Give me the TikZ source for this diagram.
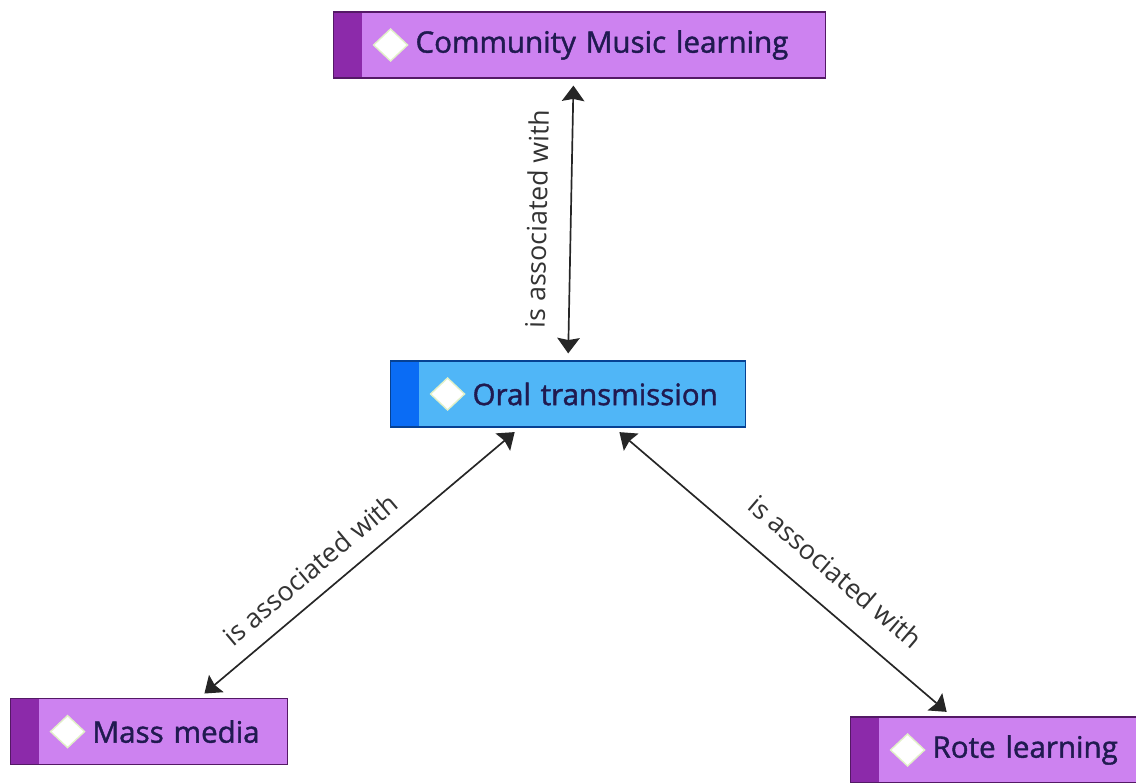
\documentclass[tikz,border=0pt]{standalone}
\usepackage{fontspec}
\usepackage{tikz}
\usetikzlibrary{arrows.meta,positioning}
\newfontfamily\boxfont[BoldFont={Open Sans}, BoldFeatures={FakeBold=1.4}]{Open Sans}
\newfontfamily\relfont{Open Sans}
\definecolor{lilac}{RGB}{205,130,240}
\definecolor{lilacbar}{RGB}{140,42,170}
\definecolor{sky}{RGB}{80,182,247}
\definecolor{skybar}{RGB}{10,108,245}
\definecolor{ink}{RGB}{32,26,80}
\definecolor{gemrim}{RGB}{225,240,200}

\begin{document}
\begin{tikzpicture}[
  concept/.style 2 args={draw=#2!60!black, fill=#1, text=ink, anchor=west,
                align=left, inner xsep=0.7cm, inner ysep=0pt,
                minimum height=1.65cm, line width=0.8pt,
                font=\boxfont\bfseries\fontsize{21}{25}\selectfont,
                path picture={
                  \fill[#2] (path picture bounding box.south west)
                    rectangle ([xshift=0.7cm]path picture bounding box.north west);
                  \filldraw[fill=white, draw=gemrim, line width=1pt]
                    ([xshift=1.0cm]path picture bounding box.west)
                    -- ++(0.425,0.4) -- ++(0.425,-0.4) -- ++(-0.425,-0.4) -- cycle;
                }},
  assoc/.style={{Stealth[length=11pt,width=16pt,inset=1.5pt]}-{Stealth[length=11pt,width=16pt,inset=1.5pt]},
                line width=1.2pt, black!85, shorten <=5pt, shorten >=5pt},
  rel/.style={sloped, text=black!80,
              font=\relfont\fontsize{19}{21}\selectfont},
]
  \useasboundingbox (0,0) rectangle (28.4,-19.575);

  %% ---- concepts ----
  \node[concept={lilac}{lilacbar}, text width=10.9cm] (community) at (8.325,-1.125)
    {\mbox{\hspace*{1.35cm}Community Music learning}};
  \node[concept={sky}{skybar}, text width=7.475cm] (oral) at (9.75,-9.85)
    {\mbox{\hspace*{1.35cm}Oral transmission}};
  \node[concept={lilac}{lilacbar}, text width=5.525cm] (media) at (0.25,-18.29)
    {\mbox{\hspace*{1.35cm}Mass media}};
  \node[concept={lilac}{lilacbar}, text width=6.0cm] (rote) at (21.25,-18.75)
    {\mbox{\hspace*{1.35cm}Rote learning}};

  %% ---- links ----
  \draw[assoc] (oral.north) -- ([xshift=-0.15cm]community.south)
    node[rel, above=13pt, pos=0.5] {is associated with};
  \draw[assoc] ([xshift=1.25cm]media.north) -- ([xshift=-1.2cm]oral.south)
    node[rel, above=8pt, pos=0.4] {is associated with};
  \draw[assoc] ([xshift=1.15cm]oral.south) -- ([xshift=2.55cm]rote.north west)
    node[rel, above=13pt, pos=0.59] {is associated with};
\end{tikzpicture}
\end{document}
